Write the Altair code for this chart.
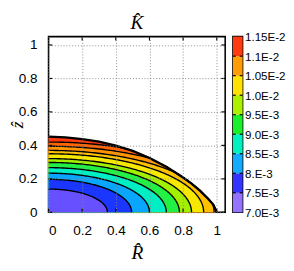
import altair as alt
import numpy as np
import pandas as pd

# ---------------- data ----------------
AXIS_TICKS = [0.0, 0.2, 0.4, 0.6, 0.8, 1.0]

CB_TICKS = [0.0070, 0.0075, 0.0080, 0.0085, 0.0090, 0.0095, 0.0100, 0.0105, 0.0110, 0.0115]
CB_LABELS = ["7.0E-3", "7.5E-3", "8.E-3", "8.5E-3", "9.0E-3", "9.5E-3",
             "1.0E-2", "1.05E-2", "1.1E-2", "1.15E-2"]

# outer boundary of the domain (R, z)
BOUNDARY_R = [0.0, 0.1, 0.2, 0.3, 0.4, 0.5, 0.6, 0.7, 0.8, 0.85, 0.9, 0.95, 0.98, 1.0]
BOUNDARY_Z = [0.452, 0.448, 0.437, 0.422, 0.398, 0.367, 0.325, 0.272, 0.208, 0.172, 0.13, 0.08, 0.045, 0.0]

# contour levels and where each crosses the axes (R at z=0, z at R=0)
CORE_K = 0.0070
CONTOUR_K = [0.0074, 0.0078, 0.0082, 0.0086, 0.0090, 0.0094, 0.0098, 0.0102, 0.0106, 0.0110]
CONTOUR_R0 = [0.35, 0.494, 0.60, 0.70, 0.778, 0.85, 0.922, 0.984, 1.05, 1.11]
CONTOUR_Z0 = [0.139, 0.197, 0.234, 0.267, 0.298, 0.321, 0.350, 0.370, 0.395, 0.420]

# palette of the map (K value -> colour)
MAP_PAL_K = [0.0072, 0.0076, 0.0080, 0.0084, 0.0088, 0.0092, 0.0096, 0.0100, 0.0104, 0.0108, 0.0112]
MAP_PAL_COL = ["#6650ff", "#1a36ff", "#08a6ff", "#00eec4", "#22f044", "#a2f000",
               "#f6e800", "#ffc000", "#ff9400", "#ff6400", "#ff3a10"]

# palette of the colour box (band centres)
BOX_PAL_K = [0.00725, 0.00775, 0.00825, 0.00875, 0.00925, 0.00975, 0.01025, 0.01075, 0.01125]
BOX_PAL_COL = ["#9474ff", "#3434ff", "#14aaff", "#00f0c0", "#1cf02c", "#acf000",
               "#ffe200", "#ff9c08", "#ff3c10"]

# ---------------- geometry ----------------
R_END = BOUNDARY_R[-1]
t = np.linspace(0.0, np.pi / 2, 120)


def zb(r):
    return np.interp(r, BOUNDARY_R, BOUNDARY_Z)


band_rows = []
line_rows = []
top_val = CONTOUR_K[-1] + (CONTOUR_K[-1] - CONTOUR_K[-2]) / 2
for r, z in zip(BOUNDARY_R, BOUNDARY_Z):
    band_rows.append(dict(band=0, R=r, z=z, K=top_val))

n = len(CONTOUR_K)
for j, i in enumerate(range(n - 1, -1, -1)):
    a, b = CONTOUR_R0[i], CONTOUR_Z0[i]
    prev = CORE_K if i == 0 else CONTOUR_K[i - 1]
    val = (prev + CONTOUR_K[i]) / 2
    R = a * np.cos(t)
    Z = b * np.sin(t)
    keep = R <= R_END
    R, Z = R[keep], Z[keep]
    if a > R_END:
        R = np.append(R, R_END)
        Z = np.append(Z, 0.0)
    Z = np.minimum(Z, zb(R))
    for r, z in zip(R, Z):
        band_rows.append(dict(band=j + 1, R=float(r), z=float(z), K=val))
        line_rows.append(dict(cid=i, R=float(r), z=float(z)))

bands = pd.DataFrame(band_rows)
lines = pd.DataFrame(line_rows)
boundary = pd.DataFrame({"R": BOUNDARY_R, "z": BOUNDARY_Z})
ticks_x = pd.DataFrame({"R": AXIS_TICKS})
ticks_y = pd.DataFrame({"z": AXIS_TICKS})

W, H = 183, 182

xscale = alt.Scale(domain=[0, 1.05], nice=False, zero=False)
yscale = alt.Scale(domain=[0, 1.05], nice=False, zero=False)
cscale = alt.Scale(domain=MAP_PAL_K, range=MAP_PAL_COL, clamp=True)

xaxis = alt.Axis(
    values=AXIS_TICKS, format="~g", ticks=False, domain=False, zindex=1,
    grid=True, gridDash=[1, 2], gridColor="#8a8a8a", gridWidth=1,
    labelPadding=12, labelFontSize=14, labelFont="Liberation Sans", labelColor="black",
    title="R\u0302", titleFont="Liberation Serif", titleFontStyle="italic",
    titleFontWeight="normal", titleFontSize=20, titleBaseline="alphabetic",
    titleY=48, titleColor="black")
yaxis = alt.Axis(
    values=AXIS_TICKS, format="~g", ticks=False, domain=False, zindex=1,
    grid=True, gridDash=[1, 2], gridColor="#8a8a8a", gridWidth=1,
    labelPadding=12, labelFontSize=14, labelFont="Liberation Sans", labelColor="black",
    title="z\u0302", titleFont="Liberation Serif", titleFontStyle="italic",
    titleFontWeight="normal", titleFontSize=18, titleX=-23, titleY=91,
    titleColor="black")

X = alt.X("R:Q", scale=xscale, axis=xaxis)
Y = alt.Y("z:Q", scale=yscale, axis=yaxis)

layers = []
for j in range(n + 1):
    layers.append(
        alt.Chart(bands).transform_filter(alt.datum.band == j).mark_area(
            opacity=1, strokeWidth=0).encode(
            x=X, y=alt.Y("z:Q", scale=yscale, stack=None, axis=yaxis),
            y2=alt.datum(0),
            color=alt.Color("K:Q", scale=cscale, legend=None))
    )

contours = alt.Chart(lines).mark_line(color="black", strokeWidth=1.4).encode(
    x=X, y=Y, detail="cid:N")
edge = alt.Chart(boundary).mark_line(color="black", strokeWidth=2.4).encode(x=X, y=Y)

tick_b = alt.Chart(ticks_x).mark_rule(color="black", strokeWidth=1.2).encode(
    x=X, y=alt.value(H), y2=alt.value(H - 4))
tick_t = alt.Chart(ticks_x).mark_rule(color="black", strokeWidth=1.2).encode(
    x=X, y=alt.value(0), y2=alt.value(4))
tick_l = alt.Chart(ticks_y).mark_rule(color="black", strokeWidth=1.2).encode(
    y=Y, x=alt.value(0), x2=alt.value(4))
tick_r = alt.Chart(ticks_y).mark_rule(color="black", strokeWidth=1.2).encode(
    y=Y, x=alt.value(W), x2=alt.value(W - 4))

main = alt.layer(*layers, contours, edge, tick_b, tick_t, tick_l, tick_r).properties(
    width=W, height=H,
    title=alt.Title("K\u0302", font="Liberation Serif", fontStyle="italic",
                    fontWeight="normal", fontSize=20, offset=3, color="black"))

# ---------------- colour box ----------------
cb = pd.DataFrame({
    "lo": CB_TICKS[:-1],
    "hi": CB_TICKS[1:],
})
cb["Kb"] = (cb["lo"] + cb["hi"]) / 2
cbt = pd.DataFrame({"v": CB_TICKS[1:-1]})

expr = ""
for v, l in zip(CB_TICKS, CB_LABELS):
    expr += f"abs(datum.value - {v}) < 1e-6 ? '{l}' : "
expr += "''"

cby = alt.Scale(domain=[CB_TICKS[0], CB_TICKS[-1]], nice=False, zero=False)
cbaxis = alt.Axis(
    orient="right", values=CB_TICKS, labelExpr=expr, ticks=False, domain=False,
    grid=False, labelPadding=2, labelFontSize=12, labelFont="Liberation Sans",
    labelColor="black", title=None)
cb_rect = alt.Chart(cb).mark_rect().encode(
    y=alt.Y("lo:Q", scale=cby, axis=cbaxis),
    y2="hi:Q",
    x=alt.value(0), x2=alt.value(10),
    color=alt.Color("Kb:Q", scale=alt.Scale(domain=BOX_PAL_K, range=BOX_PAL_COL), legend=None))
cb_tl = alt.Chart(cbt).mark_rule(color="black", strokeWidth=1.2).encode(
    y=alt.Y("v:Q", scale=cby, axis=cbaxis), x=alt.value(0), x2=alt.value(3))
cb_tr = alt.Chart(cbt).mark_rule(color="black", strokeWidth=1.2).encode(
    y=alt.Y("v:Q", scale=cby, axis=cbaxis), x=alt.value(7), x2=alt.value(10))

cbar = alt.layer(cb_rect, cb_tl, cb_tr).properties(width=10, height=H)

chart = alt.hconcat(main, cbar, spacing=4).resolve_scale(color="independent").properties(
    padding={"left": 0, "top": 0, "right": 0, "bottom": 0}
).configure_view(stroke="black", strokeWidth=1.6)

chart.save("out.html", embed_options={"renderer": "svg", "actions": False})
